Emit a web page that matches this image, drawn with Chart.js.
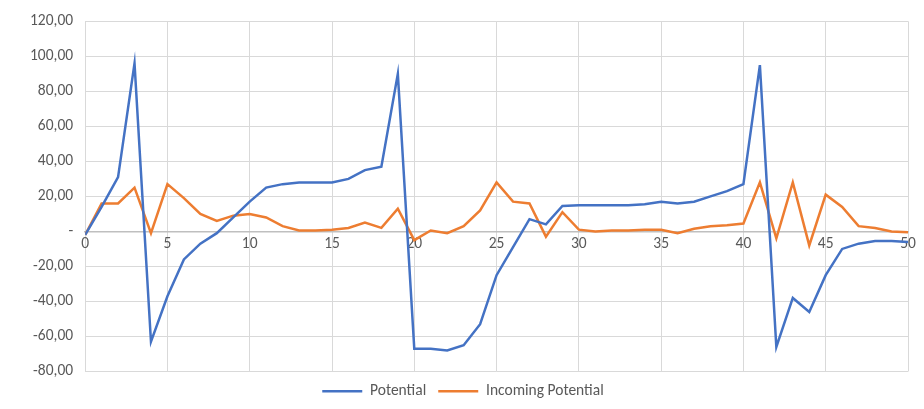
<!DOCTYPE html>
<html>
<head>
<script src="https://cdn.jsdelivr.net/npm/chart.js@4"></script>
<style>
  body { margin: 0; background: #fff; }
  #wrap { width: 924px; height: 409px; }
</style>
</head>
<body>
<div id="wrap"><canvas id="myChart"></canvas></div>
<script>
var xValues = [];
for (var i = 0; i <= 50; i++) xValues.push(i);

var potential = [-2, 14, 31, 96, -63, -37, -16, -7, -1, 8, 17, 25, 27, 28, 28, 28, 30, 35, 37, 90,
  -67, -67, -68, -65, -53, -25, -9, 7, 4, 14.5, 15, 15, 15, 15, 15.5, 17, 16, 17, 20, 23,
  27, 95, -66, -38, -46, -25, -10, -7, -5.5, -5.5, -6];
var incoming = [-2, 16, 16, 25, -1, 27, 19, 10, 6, 9, 10, 8, 3, 0.5, 0.5, 1, 2, 5, 2, 13,
  -5, 0.5, -1, 3, 12, 28, 17, 16, -3, 11, 1, 0, 0.5, 0.5, 1, 1, -1, 1.5, 3, 3.5,
  4.5, 28, -4, 28, -8, 21, 14, 3, 2, 0, -0.5];

function pts(arr) {
  return arr.map(function (v, i) { return {x: xValues[i], y: v}; });
}

var font = {family: "Calibri, Carlito, 'Liberation Sans', sans-serif", size: 15.5};
Chart.defaults.color = "#595959";

var mychart = new Chart("myChart", {
  type: "line",
  data: {
    datasets: [
      {label: "Potential", data: pts(potential), borderColor: "#4472c4", backgroundColor: "#4472c4",
       borderWidth: 2.5, pointRadius: 0, tension: 0},
      {label: "Incoming Potential", data: pts(incoming), borderColor: "#ed7d31", backgroundColor: "#ed7d31",
       borderWidth: 2.5, pointRadius: 0, tension: 0}
    ]
  },
  options: {
    responsive: true,
    maintainAspectRatio: false,
    animation: false,
    layout: {padding: {left: 18, right: 16, top: 14, bottom: 0}},
    plugins: {
      legend: {
        position: "bottom",
        labels: {font: font, boxWidth: 40, boxHeight: 0, padding: 12, color: "#595959"}
      },
      tooltip: {enabled: false}
    },
    scales: {
      x: {
        type: "linear",
        min: 0, max: 50,
        position: {y: 0},
        ticks: {stepSize: 5, font: font, color: "#595959", maxRotation: 0},
        grid: {color: "#d9d9d9", drawTicks: false},
        border: {color: "#bfbfbf", width: 1.5}
      },
      y: {
        min: -80, max: 120,
        ticks: {
          stepSize: 20, font: font, color: "#595959", padding: 12,
          callback: function (v) { return v === 0 ? "-" : v.toFixed(2).replace(".", ","); }
        },
        grid: {
          color: "#d9d9d9", drawTicks: false,
          lineWidth: function (c) { return c.tick && c.tick.value === 0 ? 0 : 1; }
        },
        border: {display: false}
      }
    }
  }
});
</script>
</body>
</html>
